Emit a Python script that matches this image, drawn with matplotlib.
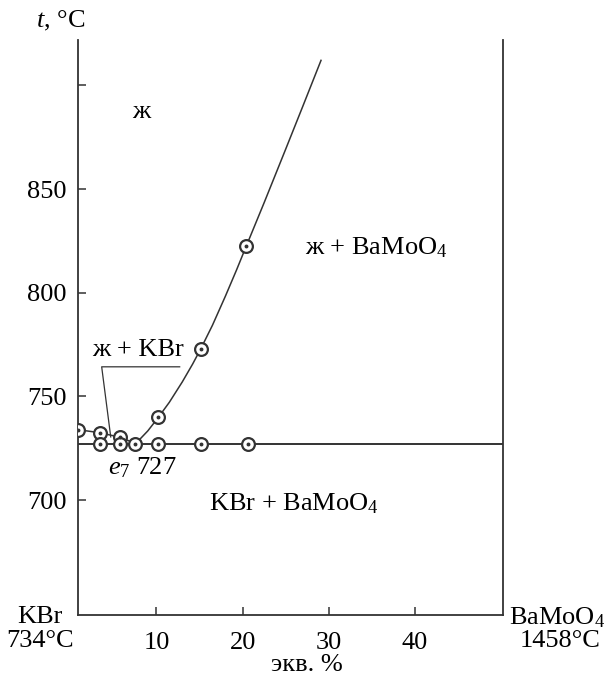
import matplotlib
matplotlib.use('Agg')
import matplotlib.pyplot as plt

plt.rcParams['font.family'] = ['Liberation Serif', 'DejaVu Serif']
plt.rcParams['mathtext.fontset'] = 'custom'
plt.rcParams['mathtext.rm'] = 'Liberation Serif'
plt.rcParams['mathtext.it'] = 'Liberation Serif:italic'

# --- data ---
# liquidus, KBr side (eq. %, °C)
kbr_x = [0.9, 3.5, 5.8, 7.6]
kbr_t = [734, 732.5, 730.3, 727.3]
# liquidus, BaMoO4 side
ba_x = [7.6, 9.0, 10.2, 11.5, 13.0, 14.2, 15.2, 16.5, 18.0, 19.3, 20.4, 22.5, 25.0, 27.0, 29.1]
ba_t = [727.3, 733.4, 739.8, 747.2, 757.0, 765.6, 773.4, 784.3, 798.3, 811.0, 822.2, 843.4, 869.2, 890.0, 912.0]
# measured points on the liquidus
liq_x = [0.9, 3.5, 5.8, 10.2, 15.2, 20.4]
liq_t = [734, 732.5, 730.3, 740.0, 773, 822.5]
# points on the eutectic line
eut_x = [3.5, 5.8, 7.5, 10.2, 15.2, 20.6]
eut_t = [727, 727, 727, 727, 727, 727]
T_EUT = 727

xticks = [10, 20, 30, 40]
yticks = [700, 750, 800, 850, 900]
ylabels = ['700', '750', '800', '850', '']

FS = 19
LC = '#333333'

fig = plt.figure(figsize=(6.14, 6.82), dpi=100)
ax = fig.add_axes([0.127, 0.098, 0.692, 0.843])

ax.plot(kbr_x, kbr_t, color=LC, lw=1.1)
ax.plot(ba_x, ba_t, color=LC, lw=1.1)
ax.axhline(T_EUT, color=LC, lw=1.4)

for xs, ts in [(liq_x, liq_t), (eut_x, eut_t)]:
    ax.plot(xs, ts, 'o', ms=9.2, mfc='white', mec=LC, mew=1.6, zorder=5)
    ax.plot(xs, ts, 'o', ms=1.8, mfc=LC, mec=LC, zorder=6)

# leader for "ж + KBr"
ax.plot([12.7, 3.65, 4.7], [764.3, 764.3, 730.5], color=LC, lw=0.9)

ax.set_xlim(0.9, 50.2)
ax.set_ylim(644.6, 921.7)
ax.set_xticks(xticks)
ax.set_xticklabels([str(v) for v in xticks])
ax.set_yticks(yticks)
ax.set_yticklabels(ylabels)
ax.tick_params(direction='in', length=6, width=1.1, color=LC, labelsize=FS, pad=8)
ax.tick_params(axis='x', pad=12)
ax.spines['top'].set_visible(False)
for s in ['left', 'right', 'bottom']:
    ax.spines[s].set_color(LC)
    ax.spines[s].set_linewidth(1.3)

ax.text(8.2, 887, 'ж', fontsize=FS, ha='center', va='center')
ax.text(27.2, 821.5, 'ж + BaMoO$_4$', fontsize=FS, ha='left', va='center')
ax.text(2.5, 772.3, 'ж + KBr', fontsize=FS, ha='left', va='center')
ax.text(16.1, 698.5, 'KBr + BaMoO$_4$', fontsize=FS, ha='left', va='center')
ax.text(4.4, 715.9, r'$\mathit{e}_7$ 727', fontsize=FS, ha='left', va='center')

fig.text(0.098, 0.969, r'$\mathit{t}$, °C', fontsize=FS, ha='center', va='center')
fig.text(0.065, 0.095, 'KBr', fontsize=FS, ha='center', va='center')
fig.text(0.065, 0.060, '734°C', fontsize=FS, ha='center', va='center')
fig.text(0.908, 0.095, 'BaMoO$_4$', fontsize=FS, ha='center', va='center')
fig.text(0.912, 0.060, '1458°C', fontsize=FS, ha='center', va='center')
fig.text(0.5, 0.025, 'экв. %', fontsize=FS, ha='center', va='center')

fig.savefig('out.png', dpi=100)
